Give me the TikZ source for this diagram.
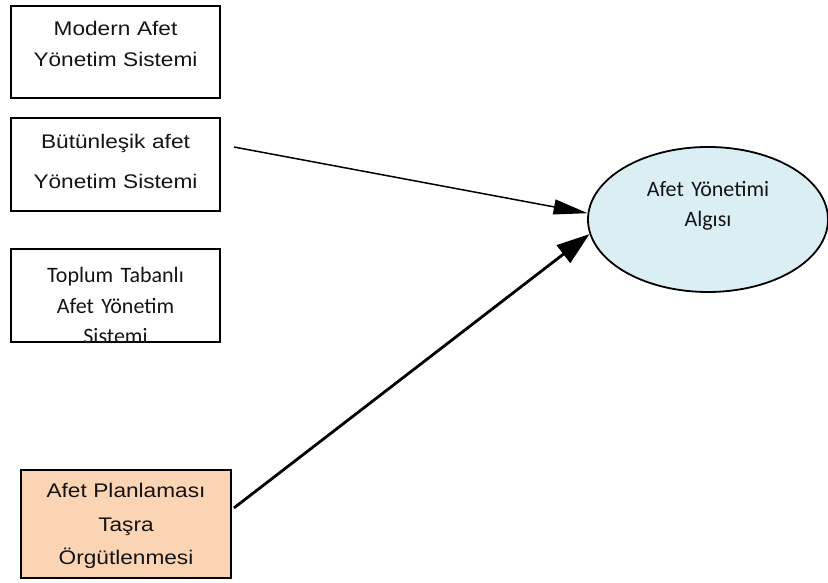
\documentclass[tikz,border=0pt]{standalone}
\usepackage{fontspec}
\usetikzlibrary{arrows.meta,shapes.geometric}
\newfontfamily\arialfont[FakeStretch=1.15]{Liberation Sans}
\newfontfamily\calibrifont{Carlito}
\definecolor{algiblue}{HTML}{DAEEF3}
\definecolor{planorange}{HTML}{FBD4B4}

\begin{document}
\begin{tikzpicture}
[
  x=1pt, y=1pt,
  every node/.style ={text=black!92},
  sysbox/.style ={draw, rectangle, line width=1.8pt, inner sep=0pt, minimum width=209pt, text width=205pt, align=center, text height=16pt},
  arialtext/.style ={font=\arialfont\fontsize{19.7pt}{#1}\selectfont},
  calibritext/.style ={font=\calibrifont\fontsize{22pt}{#1}\selectfont},
]
\useasboundingbox (0,0) rectangle (828,583);

\node[sysbox, arialtext=31pt, minimum height=92pt, text depth=48pt] (modern) at (115.5,531) {Modern Afet\\Yönetim Sistemi};
\node[sysbox, arialtext=40pt, minimum height=93pt, text depth=47pt] (butunlesik) at (115.5,418.5) {Bütünleşik afet\\Yönetim Sistemi};
\node[sysbox, calibritext=30.5pt, minimum height=93pt, text depth=41pt] (toplum) at (115.5,287.5) {Toplum Tabanlı\\Afet Yönetim\\Sistemi};
\node[sysbox, arialtext=33.5pt, fill=planorange, minimum width=210pt, minimum height=108pt, text depth=68pt] (planlama) at (126,59) {Afet Planlaması\\Taşra\\Örgütlenmesi};

\node[draw, ellipse, line width=1.8pt, fill=algiblue, inner sep=0pt, minimum width=240pt, minimum height=145pt, text width=150pt, align=center, calibritext=30pt, text height=16pt, text depth=61pt] (algi) at (708,363.5) {Afet Yönetimi\\Algısı};

\draw[-{Triangle[length=34pt,width=15pt]}, line width=1.5pt] ([xshift=13pt,yshift=17.5pt]butunlesik.east) -- (algi.177);
\draw[-{Triangle[length=33pt,width=22pt]}, line width=2.8pt] ([xshift=2pt,yshift=16pt]planlama.east) -- (algi.187);

\end{tikzpicture}
\end{document}
